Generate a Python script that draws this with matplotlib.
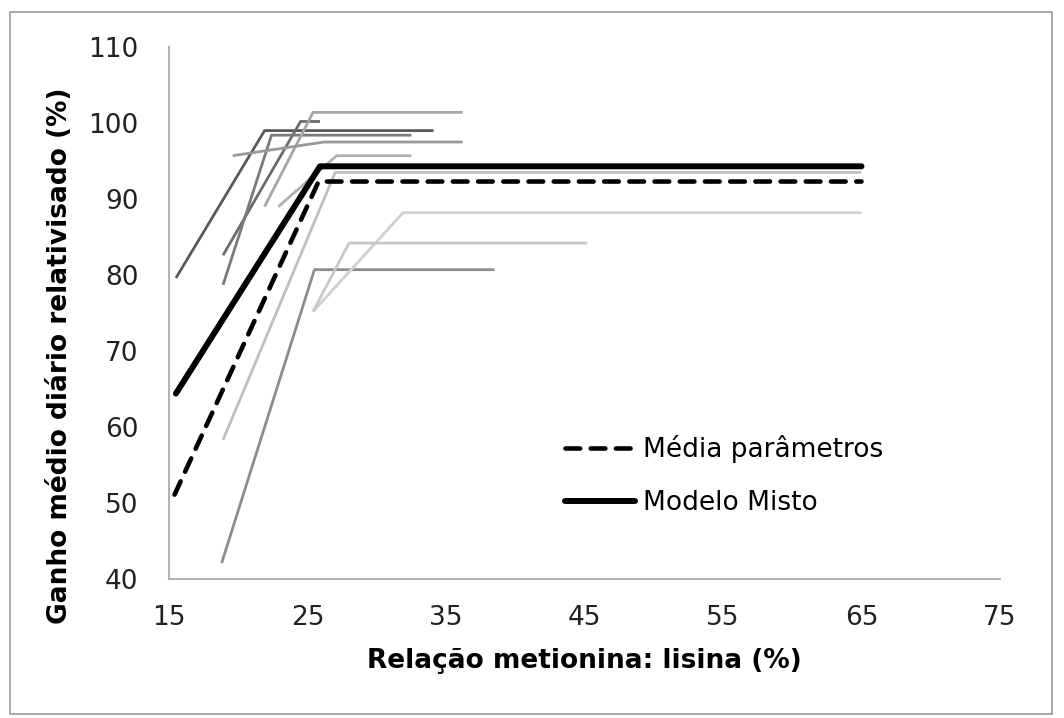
import matplotlib
matplotlib.use("Agg")
import matplotlib.pyplot as plt
from matplotlib.patches import Rectangle

plt.rcParams['font.family'] = ['DejaVu Sans']

# individual studies: linear-plateau segments (start -> break -> end)
start_x = [15.5, 18.9, 18.9, 21.9, 22.9, 19.6, 18.9, 18.8, 25.4, 25.4]
start_y = [79.6, 82.6, 78.7, 89.0, 89.0, 95.7, 58.3, 42.1, 75.2, 75.2]
break_x = [21.9, 24.5, 22.4, 25.4, 27.1, 26.2, 27.0, 25.5, 31.9, 28.0]
plateau = [99.0, 100.2, 98.4, 101.4, 95.7, 97.5, 93.5, 80.7, 88.2, 84.2]
end_x = [34.1, 25.9, 32.5, 36.2, 32.5, 36.2, 65.0, 38.5, 65.0, 45.2]

# summary curves
media_x = [15.4, 25.8, 65.0]
media_y = [51.1, 92.3, 92.3]
misto_x = [15.5, 25.9, 65.0]
misto_y = [64.4, 94.3, 94.3]

greys = ['#595959', '#6b6b6b', '#7a7a7a', '#a6a6a6', '#b0b0b0',
         '#999999', '#bfbfbf', '#8c8c8c', '#d0d0d0', '#c8c8c8']

fig = plt.figure(figsize=(10.64, 7.18), dpi=100)
fig.patches.append(Rectangle((0.009, 0.005), 0.98, 0.978, transform=fig.transFigure,
                             fill=False, edgecolor='#9a9a9a', linewidth=1.2))
ax = fig.add_axes([169/1064, (718-579)/718, 831/1064, 532/718])

for i in range(len(start_x)):
    ax.plot([start_x[i], break_x[i], end_x[i]], [start_y[i], plateau[i], plateau[i]],
            color=greys[i], linewidth=2.0, solid_capstyle='butt')

ax.plot(media_x, media_y, color='black', linewidth=3.3, linestyle=(0, (3.2, 2.3)),
        dash_capstyle='round', label='Média parâmetros')
ax.plot(misto_x, misto_y, color='black', linewidth=4.3, solid_capstyle='round',
        label='Modelo Misto')

ax.set_xlim(15, 75)
ax.set_ylim(40, 110)
ax.set_xticks(range(15, 76, 10))
ax.set_yticks(range(40, 111, 10))
ax.tick_params(length=0, labelsize=19, colors='#222222')
ax.tick_params(axis='x', pad=19)
ax.tick_params(axis='y', pad=22)
for s in ['top', 'right']:
    ax.spines[s].set_visible(False)
for s in ['left', 'bottom']:
    ax.spines[s].set_color('#b3b3b3')
    ax.spines[s].set_linewidth(1.5)

ax.set_xlabel('Relação metionina: lisina (%)', fontsize=19, fontweight='bold', labelpad=12)
ax.set_ylabel('Ganho médio diário relativisado (%)', fontsize=19, fontweight='bold')
ax.yaxis.set_label_coords(-0.1155, 0.419)

ax.legend(loc='upper left', bbox_to_anchor=(0.4765, 0.270), frameon=False, fontsize=19,
          handlelength=2.65, handletextpad=0.3, labelspacing=1.0, borderpad=0, borderaxespad=0)

fig.savefig('out.png', dpi=100)
